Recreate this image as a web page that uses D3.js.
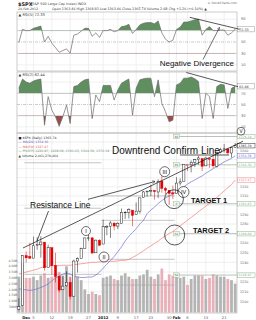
<!DOCTYPE html>
<meta charset="utf-8">
<script src="https://d3js.org/d3.v7.min.js"></script>
<style>
  body { margin: 0; background: #fff; }
  svg text { font-family: 'DejaVu Sans', Verdana, sans-serif; }
  svg text.note { font-family: 'Liberation Sans', Arial, sans-serif; fill: #111; }
</style>
<div id="chart"></div>
<script>
// ---- data ----
const days = ["2011-11-29","2011-11-30","2011-12-01","2011-12-02","2011-12-05","2011-12-06","2011-12-07","2011-12-08","2011-12-09","2011-12-12","2011-12-13","2011-12-14","2011-12-15","2011-12-16","2011-12-19","2011-12-20","2011-12-21","2011-12-22","2011-12-23","2011-12-27","2011-12-28","2011-12-29","2011-12-30","2012-01-03","2012-01-04","2012-01-05","2012-01-06","2012-01-09","2012-01-10","2012-01-11","2012-01-12","2012-01-13","2012-01-17","2012-01-18","2012-01-19","2012-01-20","2012-01-23","2012-01-24","2012-01-25","2012-01-26","2012-01-27","2012-01-30","2012-01-31","2012-02-01","2012-02-02","2012-02-03","2012-02-06","2012-02-07","2012-02-08","2012-02-09","2012-02-10","2012-02-13","2012-02-14","2012-02-15","2012-02-16","2012-02-17","2012-02-21","2012-02-22","2012-02-23","2012-02-24"];

const opens  = [1192.6,1196.7,1246.9,1246.0,1244.3,1257.2,1258.1,1260.9,1234.5,1255.1,1236.8,1225.7,1212.1,1216.1,1219.7,1205.7,1241.3,1243.7,1254.0,1265.0,1265.4,1249.8,1262.8,1258.9,1277.0,1277.3,1280.9,1277.8,1280.8,1292.0,1292.5,1294.8,1290.2,1293.7,1308.1,1314.5,1315.3,1316.0,1314.4,1326.3,1318.3,1316.2,1313.5,1312.5,1324.2,1326.2,1344.3,1344.3,1347.0,1350.0,1351.2,1343.1,1351.3,1350.5,1342.6,1358.1,1361.2,1362.1,1357.5,1363.5];
const highs  = [1203.7,1247.1,1251.1,1260.1,1266.7,1266.0,1267.1,1260.9,1258.3,1255.1,1249.9,1225.7,1225.6,1231.0,1224.6,1242.8,1245.1,1255.2,1265.4,1269.4,1265.9,1263.5,1264.1,1284.6,1278.7,1283.1,1281.8,1282.0,1296.5,1293.8,1296.8,1294.8,1303.0,1308.1,1315.5,1315.4,1322.3,1316.0,1328.3,1333.5,1320.1,1316.2,1321.4,1330.5,1329.2,1345.3,1344.4,1349.2,1351.0,1354.3,1351.2,1353.4,1351.3,1355.9,1359.0,1363.4,1367.8,1362.7,1364.2,1368.9];
const lows   = [1191.8,1196.7,1239.7,1243.4,1244.3,1253.0,1244.8,1231.5,1234.5,1227.3,1219.4,1209.5,1212.1,1215.2,1202.4,1205.7,1229.5,1243.7,1254.0,1262.3,1248.6,1249.8,1257.5,1258.9,1268.1,1265.3,1273.3,1274.6,1280.8,1285.4,1285.8,1277.6,1290.2,1291.0,1308.1,1309.2,1309.9,1306.1,1307.7,1313.6,1311.7,1300.5,1306.7,1312.5,1321.6,1326.2,1337.5,1335.9,1342.0,1344.6,1337.4,1343.1,1340.8,1340.8,1341.2,1357.2,1358.1,1355.5,1352.3,1363.5];
const closes = [1195.2,1247.0,1244.6,1244.3,1257.1,1258.5,1261.0,1234.4,1255.2,1236.5,1225.7,1211.8,1215.8,1219.7,1205.4,1241.3,1243.7,1254.0,1265.3,1265.4,1249.6,1263.0,1257.6,1277.1,1277.3,1281.1,1277.8,1280.7,1292.1,1292.5,1295.5,1289.1,1293.7,1308.0,1314.5,1315.4,1316.0,1314.7,1326.1,1318.4,1316.3,1313.0,1312.4,1324.1,1325.5,1344.9,1344.3,1347.1,1350.0,1352.0,1342.6,1351.8,1350.5,1343.2,1358.0,1361.2,1362.2,1357.7,1363.5,1365.7];
// volume, billions of shares
const volumes = [3.1,4.3,3.0,3.0,3.1,2.8,3.2,3.4,3.0,3.1,3.3,3.5,3.2,4.0,3.1,3.3,3.1,2.8,2.0,1.6,1.8,1.6,1.5,3.0,3.1,3.2,2.9,2.8,3.2,3.4,3.1,2.9,2.9,3.2,3.3,3.7,3.1,2.9,3.3,3.8,2.8,3.3,3.2,3.3,3.0,3.1,2.4,2.9,3.2,3.2,3.2,2.9,3.0,3.3,3.2,3.1,3.1,2.9,2.8,2.5];
const maFast = [1213,1212.5,1212,1211.5,1212,1213,1214.5,1216,1218,1221,1224,1226,1228,1229,1228,1226,1225,1224.5,1224.5,1225,1225,1227,1230,1234,1238,1242,1246,1251,1256,1262,1267,1271,1275,1280,1284,1291,1295,1298,1302,1305,1308,1310,1312,1315,1317,1320,1323,1325.5,1327.5,1330,1332,1335,1337.5,1340,1342.5,1345,1347.5,1349.5,1351.5,1354.36];
const maSlow = [1228,1229,1230,1231,1232,1233,1234.5,1235.5,1236,1236.5,1236.5,1236.5,1237,1237,1237,1237.5,1238,1238.5,1239,1239.5,1240,1240,1240.5,1240.5,1241,1241,1241,1241.5,1242,1242,1243,1245,1247,1249.5,1252,1254.5,1257,1259.5,1262,1265,1267.5,1270,1272,1275,1278,1281,1284,1287,1290,1293,1296,1299,1302,1305,1308.5,1312,1315.5,1319,1322.5,1327.47];
const rsiA = [49,72,70,70,74,76,78,50,60,48,40,32,35,38,30.5,62,64,69,74,74,60,66,58,70,70,72,68,70,77,78,81,65,72,80,83,84,84,82,87,66,55,50,53,72,76,85,85,87,89,90,62,72,77,70,70,71,71,62,66,72.33];
const rsiB = [79,95.5,90,88,92,94,95.5,13,64,40,28,11,28,49,16,82,84,90,94,95.5,25,67,55,84,84,84,58,76,88,92,95.5,31,79,94,96,97,97,64,94,52,37,19,22,85,88,97,97,99,96,91,25,70,64,25,82,86,85,43,79,82.44];

// monthly pivot levels
const pivotStart = ["2011-12-01","2012-01-03","2012-02-01"];
const pivotEnd   = ["2011-12-30","2012-01-31","2012-02-24"];
const pivotS2 = [1108.8,1176.1,1226.97];
const pivotS1 = [1177.9,1216.9,1269.69];
const pivotP  = [1227.7,1243.1,1301.63];
const pivotR1 = [1296.8,1283.9,1344.30];
const pivotR2 = [1346.6,1310.1,1376.19];
const pivotNames = ["S2","S1","P","R1","R2"];

const tickDays   = ["2011-12-01","2011-12-05","2011-12-12","2011-12-19","2011-12-27","2012-01-03","2012-01-09","2012-01-17","2012-01-23","2012-01-30","2012-02-01","2012-02-06","2012-02-13","2012-02-21"];
const tickLabels = ["Dec","5","12","19","27","2012","9","17","23","30","Feb","6","13","21"];
const rsiTicks = [90,70,50,30,10];
const priceTicks = [1200,1210,1220,1230,1240,1250,1260,1270,1280,1290,1300,1310,1320,1330,1340,1350,1360,1370];
const volTicks = [0.5,1,1.5,2,2.5,3,3.5,4,4.5];
const volTickLabels = ["500M","1.00B","1.50B","2.00B","2.50B","3.00B","3.50B","4.00B","4.50B"];

// ---- layout ----
const W = 256, H = 320, left = 17, right = 237;
const p1 = {top: 12, bottom: 71}, p2 = {top: 72, bottom: 133}, pm = {top: 133, bottom: 313};

const svg = d3.select("#chart").append("svg").attr("width", W).attr("height", H);
const defs = svg.append("defs");

const x = d3.scaleBand().domain(days).range([left, right]);
const bw = x.bandwidth();
const cx = d => x(d) + bw / 2;

const yA = d3.scaleLinear().domain([0, 100]).range([70.5, 13.5]);
const yB = d3.scaleLinear().domain([0, 100]).range([132.5, 76.5]);
const yP = d3.scaleLog().domain([1190, 1381]).range([312, 132.3]);
const yV = d3.scaleLinear().domain([0, 4.5]).range([312.5, 260.5]);

const grid = "#e6e6e6";

function panelFrame(p) {
  svg.append("g").selectAll("line").data(tickDays).join("line")
    .attr("x1", d => cx(d)).attr("x2", d => cx(d))
    .attr("y1", p.top).attr("y2", p.bottom)
    .attr("stroke", grid).attr("stroke-width", 0.6);
}

// ---- RSI panels ----
function rsiPanel(p, y, vals, name, id) {
  panelFrame(p);
  const g = svg.append("g");
  g.selectAll("line.h").data(rsiTicks).join("line")
    .attr("x1", left).attr("x2", right)
    .attr("y1", d => y(d)).attr("y2", d => y(d))
    .attr("stroke", d => (d === 70 || d === 30) ? "#bbb" : (d === 50 ? "#aaa" : grid))
    .attr("stroke-width", 0.6)
    .attr("stroke-dasharray", d => d === 50 ? "3,1,1,1" : null);

  defs.append("clipPath").attr("id", id + "hi").append("rect")
    .attr("x", left).attr("y", p.top).attr("width", right - left).attr("height", y(70) - p.top);
  defs.append("clipPath").attr("id", id + "lo").append("rect")
    .attr("x", left).attr("y", y(30)).attr("width", right - left).attr("height", p.bottom - y(30));

  const area = base => d3.area().x((d, i) => cx(days[i])).y0(y(base)).y1(d => y(d));
  g.append("path").datum(vals).attr("d", area(70)).attr("fill", "#5f8f5f")
    .attr("clip-path", `url(#${id}hi)`);
  g.append("path").datum(vals).attr("d", area(30)).attr("fill", "#9a4c4c")
    .attr("clip-path", `url(#${id}lo)`);
  g.append("path").datum(vals)
    .attr("d", d3.line().x((d, i) => cx(days[i])).y(d => y(d)))
    .attr("fill", "none").attr("stroke", "#6a6a6a").attr("stroke-width", 0.7);

  g.append("rect").attr("x", left).attr("y", p.top).attr("width", right - left).attr("height", p.bottom - p.top)
    .attr("fill", "none").attr("stroke", "#aaa").attr("stroke-width", 0.6);

  const last = vals[vals.length - 1];
  g.selectAll("text.t").data(rsiTicks.filter(t => Math.abs(y(t) - y(last)) > 4.5)).join("text")
    .attr("x", 241).attr("y", d => y(d) + 1.2).attr("font-size", 3.6).attr("fill", "#666").text(d => d);
  g.append("rect").attr("x", 237.5).attr("y", y(last) - 2.6).attr("width", 17).attr("height", 5.2)
    .attr("fill", "#fff").attr("stroke", "#999").attr("stroke-width", 0.5);
  g.append("text").attr("x", 239).attr("y", y(last) + 1.3).attr("font-size", 3.4).attr("fill", "#333").text(last.toFixed(2));
  g.append("text").attr("x", 18.5).attr("y", p.top + 3.6).attr("font-size", 3.6).attr("fill", "#333")
    .text("\u25B2 " + name + " " + last.toFixed(2));
}
rsiPanel(p1, yA, rsiA, "RSI(5)", "rsia");
rsiPanel(p2, yB, rsiB, "RSI(2)", "rsib");

// ---- main price panel ----
panelFrame(pm);
svg.append("g").selectAll("line").data(priceTicks).join("line")
  .attr("x1", left).attr("x2", right)
  .attr("y1", d => yP(d)).attr("y2", d => yP(d))
  .attr("stroke", grid).attr("stroke-width", 0.6);

// volume bars
svg.append("g").selectAll("rect").data(days).join("rect")
  .attr("x", d => x(d) + 0.45).attr("width", bw - 0.9)
  .attr("y", (d, i) => yV(volumes[i])).attr("height", (d, i) => yV(0) - yV(volumes[i]))
  .attr("fill", (d, i) => (i > 0 && closes[i] < closes[i - 1]) ? "#eab0b8" : "#b4b4b4");

// pivot lines
const pivotSets = [pivotS2, pivotS1, pivotP, pivotR1, pivotR2];
const pg = svg.append("g");
pivotStart.forEach((s, m) => {
  pivotSets.forEach((set, k) => {
    const v = set[m];
    if (v < 1190 || v > 1381) return;
    pg.append("line")
      .attr("x1", x(s)).attr("x2", x(pivotEnd[m]) + bw)
      .attr("y1", yP(v)).attr("y2", yP(v))
      .attr("stroke", m === 2 ? "#9aa79a" : "#aaa").attr("stroke-width", 0.7);
    if (m === 2) {
      pg.append("rect").attr("x", cx(s) - 3).attr("y", yP(v) - 2.2).attr("width", 6).attr("height", 4.4)
        .attr("fill", "#eef4ee").attr("stroke", "#8bb08b").attr("stroke-width", 0.4);
      pg.append("text").attr("x", cx(s)).attr("y", yP(v) + 1.1).attr("text-anchor", "middle")
        .attr("font-size", 2.8).attr("fill", "#557755").text(pivotNames[k]);
    }
  });
});

// moving averages
const maLine = vals => d3.line().x((d, i) => cx(days[i])).y(d => yP(d))(vals);
svg.append("path").attr("d", maLine(maSlow)).attr("fill", "none").attr("stroke", "#f07c7c").attr("stroke-width", 0.7);
svg.append("path").attr("d", maLine(maFast)).attr("fill", "none").attr("stroke", "#7070c8").attr("stroke-width", 0.7);

// candles
const cg = svg.append("g");
days.forEach((d, i) => {
  const prev = i > 0 ? closes[i - 1] : opens[i];
  const col = closes[i] >= prev ? "#111" : "#e00000";
  const hollow = closes[i] >= opens[i];
  cg.append("line").attr("x1", cx(d)).attr("x2", cx(d))
    .attr("y1", yP(highs[i])).attr("y2", yP(lows[i])).attr("stroke", col).attr("stroke-width", 0.5);
  const top = yP(Math.max(opens[i], closes[i])), bot = yP(Math.min(opens[i], closes[i]));
  cg.append("rect").attr("x", cx(d) - 1.1).attr("width", 2.2)
    .attr("y", top).attr("height", Math.max(0.6, bot - top))
    .attr("fill", hollow ? "#fff" : col).attr("stroke", col).attr("stroke-width", 0.45);
});

svg.append("rect").attr("x", left).attr("y", pm.top).attr("width", right - left).attr("height", pm.bottom - pm.top)
  .attr("fill", "none").attr("stroke", "#aaa").attr("stroke-width", 0.6);

// value boxes on the price axis
const boxes = [
  {v: pivotR2[2], c: "#8bb08b"}, {v: closes[59], c: "#222"}, {v: maFast[59], c: "#7070c8"},
  {v: pivotR1[2], c: "#8bb08b"}, {v: maSlow[59], c: "#f07c7c"}, {v: pivotP[2], c: "#8bb08b"},
  {v: pivotS1[2], c: "#8bb08b"}, {v: pivotS2[2], c: "#8bb08b"}
];
// price axis, skipping ticks hidden behind a box
svg.append("g").selectAll("text")
  .data(priceTicks.filter(t => boxes.every(b => Math.abs(yP(t) - yP(b.v)) > 4.2)))
  .join("text")
  .attr("x", 240).attr("y", d => yP(d) + 1.2).attr("font-size", 3.3).attr("fill", "#666").text(d => d);
// volume axis
svg.append("g").selectAll("text").data(volTicks).join("text")
  .attr("x", 17.5).attr("y", d => yV(d) + 1.2).attr("text-anchor", "end")
  .attr("font-size", 3.1).attr("fill", "#666").text((d, i) => volTickLabels[i]);

const bg = svg.append("g");
boxes.forEach(b => {
  bg.append("rect").attr("x", 237.5).attr("y", yP(b.v) - 2.2).attr("width", 17.5).attr("height", 4.4)
    .attr("fill", "#fff").attr("stroke", b.c).attr("stroke-width", 0.5);
  bg.append("text").attr("x", 238.6).attr("y", yP(b.v) + 1.1).attr("font-size", 3.1).attr("fill", b.c)
    .text(b.v.toFixed(2));
});

// x axis labels
svg.append("g").selectAll("text").data(tickDays).join("text")
  .attr("x", d => cx(d)).attr("y", 318.5).attr("text-anchor", "middle")
  .attr("font-size", 3.8)
  .attr("font-weight", (d, i) => isNaN(+tickLabels[i]) || tickLabels[i] === "2012" ? "bold" : null)
  .attr("fill", (d, i) => isNaN(+tickLabels[i]) || tickLabels[i] === "2012" ? "#222" : "#666")
  .text((d, i) => tickLabels[i]);

// legend
const legend = [
  {t: "\u25A0 $SPX (Daily) 1365.74", c: "#222"},
  {t: "\u2014 MA(20) 1354.36", c: "#5555bb"},
  {t: "\u2014 MA(50) 1327.47", c: "#e05050"},
  {t: "\u2014 PIVOTS 1226.97, 1269.69, 1301.63, 1344.30, 1376.19", c: "#6f8f6f"},
  {t: "\u25B2 Volume 2,461,270,464", c: "#333"}
];
svg.append("g").selectAll("text").data(legend).join("text")
  .attr("x", 18.5).attr("y", (d, i) => 138.5 + i * 4.5).attr("font-size", 3.2)
  .attr("fill", d => d.c).text(d => d.t);

// header
svg.append("text").attr("x", 18).attr("y", 5.5).attr("font-size", 5).attr("font-weight", "bold").attr("fill", "#222").text("$SPX");
svg.append("text").attr("x", 31).attr("y", 5.3).attr("font-size", 3.4).attr("fill", "#444").text("(S&P 500 Large Cap Index) INDX");
svg.append("text").attr("x", 18).attr("y", 10.3).attr("font-size", 3.2).attr("fill", "#444").text("24-Feb-2012");
svg.append("text").attr("x", 52).attr("y", 10.3).attr("font-size", 3.3).attr("fill", "#333")
  .text("Open 1363.46  High 1368.92  Low 1363.46  Close 1365.74  Volume 2.6B  Chg +1.26 (+0.10%) \u25B2");
svg.append("text").attr("x", 237).attr("y", 4).attr("text-anchor", "end").attr("font-size", 3).attr("fill", "#666").text("\u00A9 StockCharts.com");

// ---- hand-drawn annotations ----
const ink = "#111";
defs.append("marker").attr("id", "arr").attr("viewBox", "0 0 10 10")
  .attr("refX", 9).attr("refY", 5).attr("markerWidth", 5).attr("markerHeight", 5).attr("orient", "auto")
  .append("path").attr("d", "M0,0 L10,5 L0,10").attr("fill", "none").attr("stroke", ink).attr("stroke-width", 1.2);
const ann = svg.append("g").attr("stroke", ink).attr("fill", "none");

// divergence lines
ann.append("line").attr("x1", 189.7).attr("y1", 17.3).attr("x2", 239.7).attr("y2", 29.3).attr("stroke-width", 0.7);
ann.append("line").attr("x1", 186.3).attr("y1", 72.5).attr("x2", 238).attr("y2", 86.7).attr("stroke-width", 0.7);
ann.append("line").attr("x1", 203).attr("y1", 59.5).attr("x2", 219.5).attr("y2", 27.5).attr("stroke-width", 0.6).attr("marker-end", "url(#arr)");
// trend lines
ann.append("line").attr("x1", 23).attr("y1", 248).attr("x2", 243).attr("y2", 141.2).attr("stroke-width", 0.7);
ann.append("line").attr("x1", 88).attr("y1", 199.3).attr("x2", 155).attr("y2", 181.5).attr("stroke-width", 0.7).attr("marker-end", "url(#arr)");
ann.append("line").attr("x1", 48.5).attr("y1", 211).attr("x2", 37).attr("y2", 241).attr("stroke-width", 0.7);
ann.append("line").attr("x1", 180).attr("y1", 155).attr("x2", 229).attr("y2", 155).attr("stroke-width", 0.7);

// wave circles
const waves = [
  {t: "I", x: 86, y: 231, r: 4.5, s: 5.5}, {t: "II", x: 104, y: 257, r: 5, s: 5.5},
  {t: "III", x: 164.7, y: 171.7, r: 5, s: 5.5}, {t: "IV", x: 183.5, y: 192, r: 5.5, s: 5.5},
  {t: "V", x: 241, y: 131.2, r: 3.9, s: 4.6}
];
waves.forEach(w => {
  ann.append("circle").attr("cx", w.x).attr("cy", w.y).attr("r", w.r).attr("stroke-width", 0.6)
    .attr("fill", "#fff").attr("fill-opacity", 0.7);
  svg.append("text").attr("class", "note").attr("x", w.x).attr("y", w.y + w.s * 0.36).attr("text-anchor", "middle")
    .attr("font-size", w.s).text(w.t);
});
ann.append("circle").attr("cx", 174).attr("cy", 199.2).attr("r", 9.4).attr("stroke-width", 0.7);
ann.append("circle").attr("cx", 174.7).attr("cy", 235).attr("r", 10).attr("stroke-width", 0.7);

const notes = [
  {t: "Negative Divergence", x: 159.7, y: 66.3, s: 8},
  {t: "Downtrend Confirm Line", x: 112, y: 154.2, s: 10},
  {t: "Resistance Line", x: 30, y: 208, s: 8.5},
  {t: "TARGET 1", x: 191, y: 202.8, s: 7.4, b: true},
  {t: "TARGET 2", x: 193, y: 232.8, s: 7.4, b: true}
];
svg.append("g").selectAll("text").data(notes).join("text").attr("class", "note")
  .attr("x", d => d.x).attr("y", d => d.y).attr("font-size", d => d.s)
  .attr("font-weight", d => d.b ? "bold" : null).text(d => d.t);
</script>
